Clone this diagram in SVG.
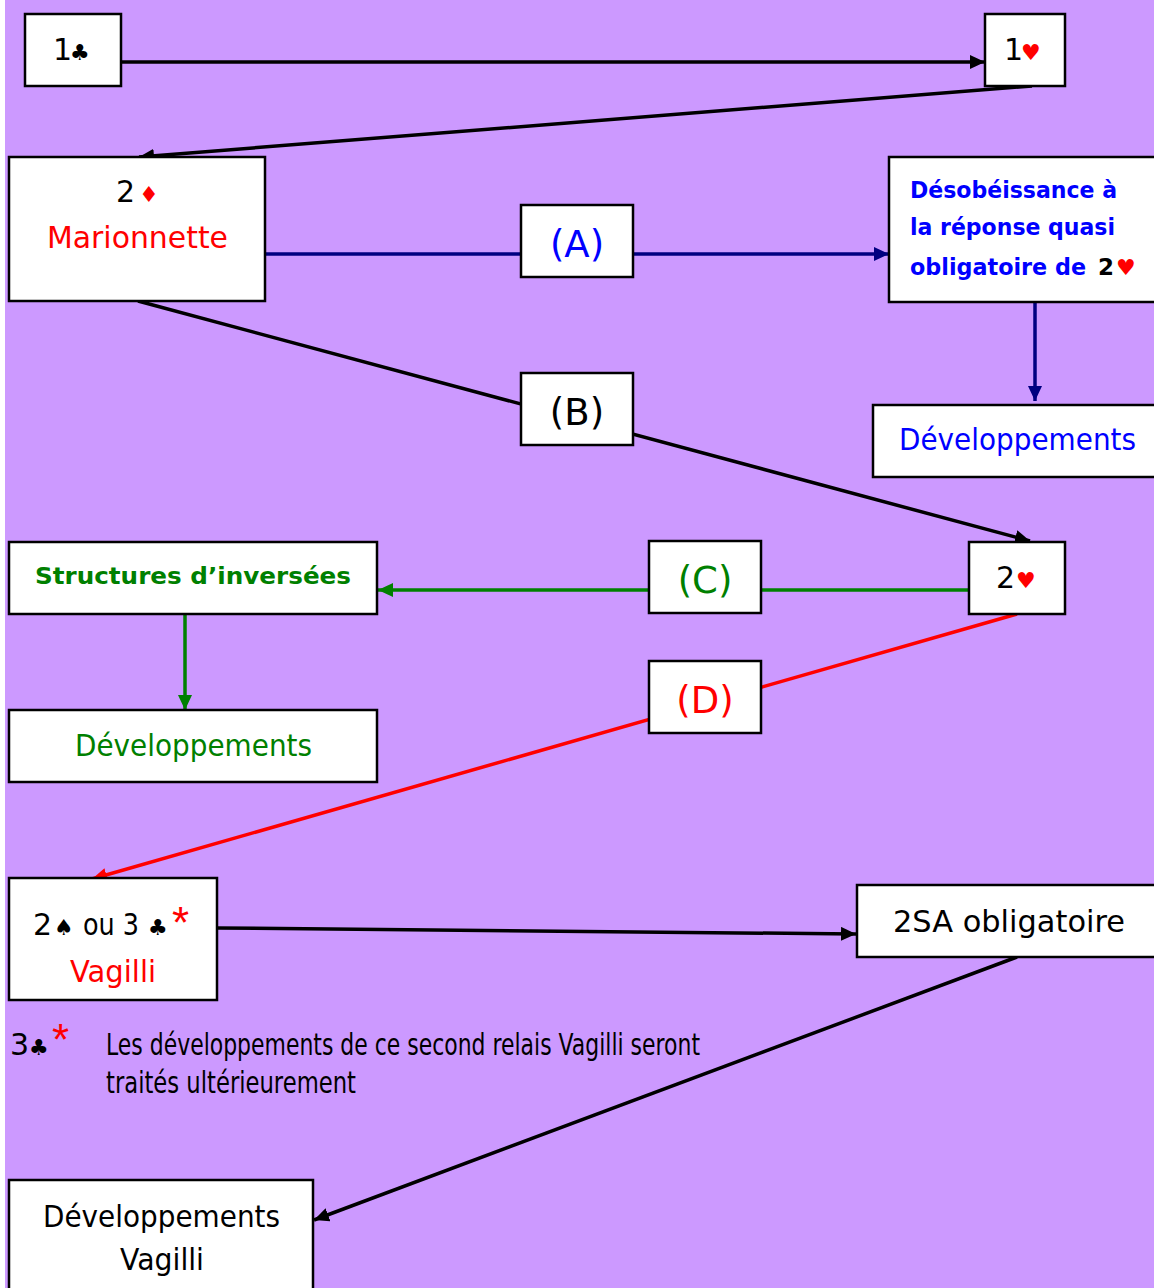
<svg xmlns="http://www.w3.org/2000/svg" width="1154" height="1288" viewBox="0 0 1154 1288">
<defs>
<style>
.box{fill:#fff;stroke:#000;stroke-width:2.5}
.t{font-family:"DejaVu Sans","Liberation Sans",sans-serif;font-size:30px}
.b{font-weight:bold;font-size:23px}
.s{font-family:"DejaVu Sans",sans-serif;font-size:22px}
.ast{font-family:"Liberation Sans",sans-serif;font-size:44px;fill:#f00}
.lbl{font-size:37px}
.blk{fill:#000}.red{fill:#f00}.blu{fill:#00f}.grn{fill:#008000}
.ln{fill:none;stroke-width:3.5}
</style>
<marker id="ak" markerUnits="userSpaceOnUse" markerWidth="16" markerHeight="14" refX="15" refY="7" orient="auto"><path d="M0,0 L15,7 L0,14 z" fill="#000"/></marker>
<marker id="an" markerUnits="userSpaceOnUse" markerWidth="16" markerHeight="14" refX="15" refY="7" orient="auto"><path d="M0,0 L15,7 L0,14 z" fill="#000080"/></marker>
<marker id="ag" markerUnits="userSpaceOnUse" markerWidth="16" markerHeight="14" refX="15" refY="7" orient="auto"><path d="M0,0 L15,7 L0,14 z" fill="#008000"/></marker>
<marker id="ar" markerUnits="userSpaceOnUse" markerWidth="16" markerHeight="14" refX="15" refY="7" orient="auto"><path d="M0,0 L15,7 L0,14 z" fill="#f00"/></marker>
</defs>
<rect x="0" y="0" width="1154" height="1288" fill="#fff"/>
<rect x="5" y="0" width="1149" height="1288" fill="#CC99FF"/>

<g id="connectors">
<line class="ln" stroke="#000" x1="121" y1="62" x2="985" y2="62" marker-end="url(#ak)"/>
<line class="ln" stroke="#000" x1="1032" y1="86" x2="139" y2="157" marker-end="url(#ak)"/>
<line class="ln" stroke="#000080" x1="265" y1="254" x2="889" y2="254" marker-end="url(#an)"/>
<line class="ln" stroke="#000080" x1="1035" y1="302" x2="1035" y2="401" marker-end="url(#an)"/>
<line class="ln" stroke="#000" x1="138" y1="301" x2="1030" y2="541" marker-end="url(#ak)"/>
<line class="ln" stroke="#008000" x1="969" y1="590" x2="378" y2="590" marker-end="url(#ag)"/>
<line class="ln" stroke="#008000" x1="185" y1="614" x2="185" y2="710" marker-end="url(#ag)"/>
<line class="ln" stroke="#f00" x1="1017" y1="614" x2="92" y2="879" marker-end="url(#ar)"/>
<line class="ln" stroke="#000" x1="217" y1="928" x2="856" y2="934" marker-end="url(#ak)"/>
<line class="ln" stroke="#000" x1="1017" y1="957" x2="314" y2="1220" marker-end="url(#ak)"/>
</g>

<g id="n1c">
<rect class="box" x="25" y="14" width="96" height="72"/>
<text class="t blk" x="53" y="60">1</text>
<text class="s blk" x="70" y="60" font-size="24">♣</text>
</g>
<g id="n1h">
<rect class="box" x="985" y="14" width="80" height="72"/>
<text class="t blk" x="1004" y="60">1</text>
<text class="s red" x="1021" y="60" font-size="24">♥</text>
</g>
<g id="n2d">
<rect class="box" x="9" y="157" width="256" height="144"/>
<text class="t blk" x="116" y="202">2</text>
<text class="s red" x="139" y="202" font-size="24">♦</text>
<text class="t red" x="47" y="248" textLength="181" lengthAdjust="spacingAndGlyphs">Marionnette</text>
</g>
<g id="lA">
<rect class="box" x="521" y="205" width="112" height="72"/>
<text class="t lbl blu" x="577" y="257" text-anchor="middle">(A)</text>
</g>
<g id="ndes">
<rect class="box" x="889" y="157" width="270" height="145"/>
<text class="t b blu" x="910" y="198" textLength="207" lengthAdjust="spacingAndGlyphs">Désobéissance à</text>
<text class="t b blu" x="910" y="235" textLength="205" lengthAdjust="spacingAndGlyphs">la réponse quasi</text>
<text class="t b blu" x="910" y="275" textLength="176" lengthAdjust="spacingAndGlyphs">obligatoire de</text>
<text class="t b blk" x="1098" y="275">2</text>
<text class="s red" x="1116" y="275" font-size="22">♥</text>
</g>
<g id="ndevb">
<rect class="box" x="873" y="405" width="286" height="72"/>
<text class="t blu" x="899" y="450" textLength="237" lengthAdjust="spacingAndGlyphs">Développements</text>
</g>
<g id="lB">
<rect class="box" x="521" y="373" width="112" height="72"/>
<text class="t lbl blk" x="577" y="425" text-anchor="middle">(B)</text>
</g>
<g id="n2h">
<rect class="box" x="969" y="542" width="96" height="72"/>
<text class="t blk" x="996" y="588">2</text>
<text class="s red" x="1016" y="588" font-size="24">♥</text>
</g>
<g id="lC">
<rect class="box" x="649" y="541" width="112" height="72"/>
<text class="t lbl grn" x="705" y="593" text-anchor="middle">(C)</text>
</g>
<g id="nstr">
<rect class="box" x="9" y="542" width="368" height="72"/>
<text class="t b grn" x="35" y="584" textLength="316" lengthAdjust="spacingAndGlyphs">Structures d’inversées</text>
</g>
<g id="ndevg">
<rect class="box" x="9" y="710" width="368" height="72"/>
<text class="t grn" x="75" y="756" textLength="237" lengthAdjust="spacingAndGlyphs">Développements</text>
</g>
<g id="lD">
<rect class="box" x="649" y="661" width="112" height="72"/>
<text class="t lbl red" x="705" y="713" text-anchor="middle">(D)</text>
</g>
<g id="nvag">
<rect class="box" x="9" y="878" width="208" height="122"/>
<text class="t blk" x="33" y="935">2</text>
<text class="s blk" x="54" y="935" font-size="22">♠</text>
<text class="t blk" x="83" y="935" textLength="56" lengthAdjust="spacingAndGlyphs">ou 3</text>
<text class="s blk" x="148" y="935" font-size="22">♣</text>
<text class="ast" x="172" y="938">*</text>
<text class="t red" x="70" y="982" textLength="86" lengthAdjust="spacingAndGlyphs">Vagilli</text>
</g>
<g id="n2sa">
<rect class="box" x="857" y="885" width="302" height="72"/>
<text class="t blk" x="893" y="932" textLength="232" lengthAdjust="spacingAndGlyphs">2SA obligatoire</text>
</g>
<g id="ndevv">
<rect class="box" x="9" y="1180" width="304" height="120"/>
<text class="t blk" x="43" y="1227" textLength="237" lengthAdjust="spacingAndGlyphs">Développements</text>
<text class="t blk" x="120" y="1270" textLength="84" lengthAdjust="spacingAndGlyphs">Vagilli</text>
</g>
<g id="note">
<text class="t blk" x="10" y="1055">3</text>
<text class="s blk" x="29" y="1055" font-size="22">♣</text>
<text class="ast" x="52" y="1055">*</text>
<text class="t blk" x="106" y="1055" font-size="20" textLength="594" lengthAdjust="spacingAndGlyphs">Les développements de ce second relais Vagilli seront</text>
<text class="t blk" x="106" y="1093" font-size="20" textLength="250" lengthAdjust="spacingAndGlyphs">traités ultérieurement</text>
</g>
</svg>
